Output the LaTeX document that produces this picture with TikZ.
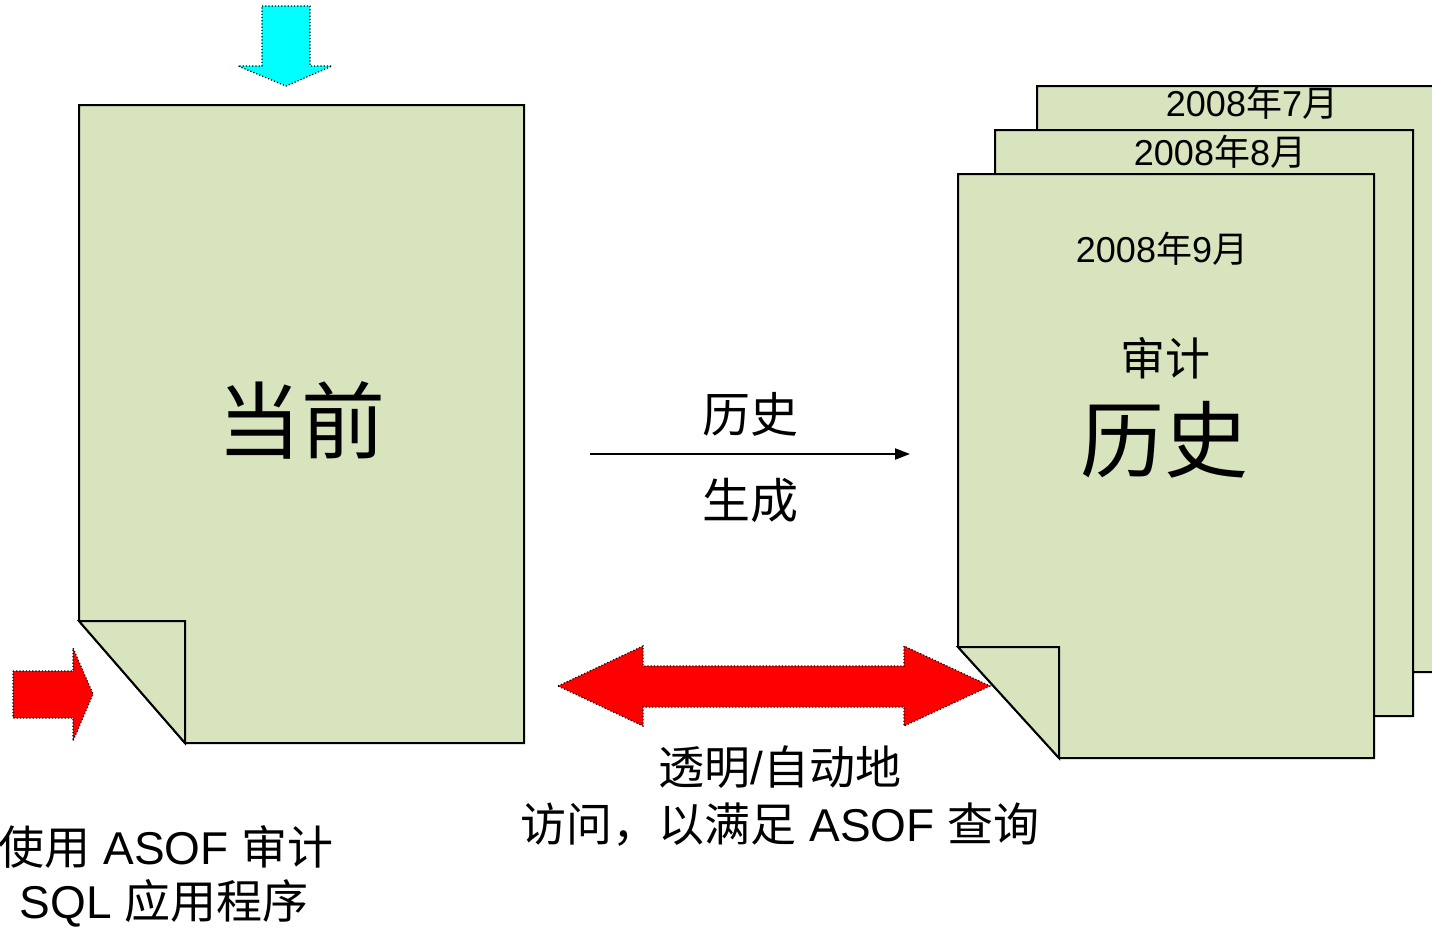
\documentclass[tikz,border=0pt]{standalone}
\usepackage{fontspec}
\setmainfont{Liberation Sans}
\newfontfamily\cjk{Noto Sans CJK SC}
\usetikzlibrary{arrows.meta}
\definecolor{pagegreen}{RGB}{215,228,189}
\definecolor{arrowcyan}{RGB}{0,255,255}
\definecolor{arrowred}{RGB}{255,0,0}
\tikzset{
  page/.style={fill=pagegreen, draw=black, line width=1pt, line join=miter},
  bigarrow/.style={draw=black, densely dotted, line width=0.6pt},
  lbl/.style={inner sep=0pt, anchor=center, align=center},
  captxt/.style={lbl, font=\fontsize{23pt}{28pt}\selectfont},
}
\begin{document}
\begin{tikzpicture}[x=0.5pt,y=-0.5pt]
\useasboundingbox (0,0) rectangle (1432,928);
\begin{scope}
\clip (0,0) rectangle (1432,928);
% left page
\draw[page] (79,105) -- (524,105) -- (524,743) -- (185,743) -- (79,621) -- cycle;
\draw[page] (79,621) -- (185,621) -- (185,743) -- cycle;
\node[lbl, font=\cjk\fontsize{42pt}{50pt}\selectfont] (cur) at (301,420) {当前};
% stacked history pages (back to front)
\draw[page] (1079,672) -- (1037,560) -- (1037,86) -- (1460,86) -- (1460,672) -- cycle;
\node[lbl, font=\fontsize{18pt}{22pt}\selectfont] (jul) at (1252,103) {2008{\cjk 年}7{\cjk 月}};
\draw[page] (1096,716) -- (995,604) -- (995,130) -- (1413,130) -- (1413,716) -- cycle;
\node[lbl, font=\fontsize{18pt}{22pt}\selectfont] (aug) at (1220,152) {2008{\cjk 年}8{\cjk 月}};
\draw[page] (958,174) -- (1374,174) -- (1374,758) -- (1059,758) -- (958,647) -- cycle;
\draw[page] (958,647) -- (1059,647) -- (1059,758) -- cycle;
\node[lbl, font=\fontsize{18pt}{22pt}\selectfont] (sep) at (1162,249) {2008{\cjk 年}9{\cjk 月}};
\node[lbl, font=\cjk\fontsize{22.5pt}{27pt}\selectfont] (audit) at (1165,358) {审计};
\node[lbl, font=\cjk\fontsize{42pt}{50pt}\selectfont] (hist) at (1164,440) {历史};
% generation arrow
\coordinate (gs) at (590,454);
\coordinate (ge) at (910,454);
\draw[line width=1.1pt, -{Triangle[length=7.5pt, width=5.5pt]}] (gs) -- (ge);
\node[lbl, font=\cjk\fontsize{24pt}{29pt}\selectfont] (g1) at (750,414) {历史};
\node[lbl, font=\cjk\fontsize{24pt}{29pt}\selectfont] (g2) at (750,500) {生成};
% block arrows
\draw[bigarrow, fill=arrowcyan] (262,6) -- (310,6) -- (310,66) -- (332,66) -- (286,86) -- (238,66) -- (262,66) -- cycle;
\draw[bigarrow, fill=arrowred] (13,671) -- (73,671) -- (73,648) -- (93,694) -- (73,741) -- (73,718) -- (13,718) -- cycle;
\draw[bigarrow, fill=arrowred] (558,686) -- (643,646) -- (643,666) -- (904,666) -- (904,646) -- (990,686) -- (904,726) -- (904,707) -- (643,707) -- (643,726) -- cycle;
% bottom labels
\node[captxt] (acc1) at (780,767) {{\cjk 透明}/{\cjk 自动地}};
\node[captxt] (acc2) at (780,825) {{\cjk 访问，以满足} ASOF {\cjk 查询}};
\node[captxt] (app1) at (166,847) {{\cjk 使用} ASOF {\cjk 审计}};
\node[captxt] (app2) at (164,903) {SQL {\cjk 应用程序}};
\end{scope}
\end{tikzpicture}
\end{document}
